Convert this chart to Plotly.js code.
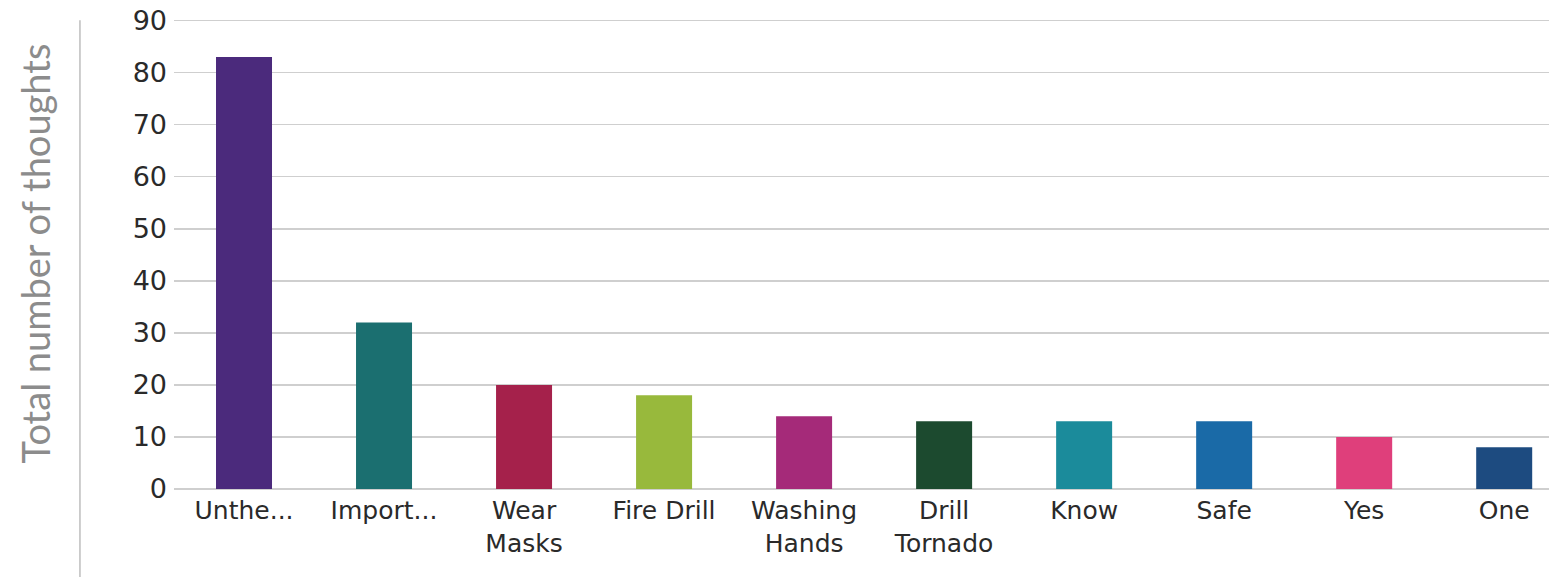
<!DOCTYPE html>
<html>
<head>
<meta charset="utf-8">
<script src="https://cdn.plot.ly/plotly-3.0.1.min.js"></script>
<style>html,body{margin:0;padding:0;background:#fff;}#chart{width:1549px;height:577px;}</style>
</head>
<body>
<div id="chart"></div>
<script>
const categories = ["Unthe...", "Import...", "Wear<br>Masks", "Fire Drill", "Washing<br>Hands", "Drill<br>Tornado", "Know", "Safe", "Yes", "One"];
const values = [83, 32, 20, 18, 14, 13, 13, 13, 10, 8];
const barColors = ["#4b2a7c", "#1b6f70", "#a5214b", "#98b93c", "#a52a79", "#1c4a2f", "#1b8b9b", "#1a6aa7", "#df3f7b", "#1d4b80"];
const yTickVals = [0, 10, 20, 30, 40, 50, 60, 70, 80, 90];

const trace = {
  type: "bar",
  x: categories,
  y: values,
  width: 0.4,
  marker: {color: barColors},
  hoverinfo: "x+y"
};

const layout = {
  width: 1549,
  height: 577,
  margin: {l: 174, r: 0, t: 18, b: 88},
  paper_bgcolor: "#ffffff",
  plot_bgcolor: "#ffffff",
  showlegend: false,
  font: {family: "DejaVu Sans, Liberation Sans, sans-serif", color: "#2a2a2a"},
  xaxis: {
    type: "category",
    range: [-0.5, 9.32],
    showgrid: false,
    zeroline: false,
    showline: false,
    ticks: "",
    ticklabelstandoff: 4,
    tickfont: {size: 25, color: "#2a2a2a"},
    fixedrange: true
  },
  yaxis: {
    range: [0, 90.5],
    tickvals: yTickVals,
    ticktext: yTickVals.map(String),
    showgrid: true,
    gridcolor: "#cfcfcf",
    gridwidth: 1.5,
    zeroline: true,
    zerolinecolor: "#cfcfcf",
    zerolinewidth: 1.5,
    showline: false,
    ticks: "",
    ticklen: 0,
    ticklabelstandoff: 6,
    tickfont: {size: 27, color: "#2a2a2a"},
    title: {text: "Total number of thoughts", font: {family: "Lato, Open Sans, sans-serif", size: 38, color: "#8c8c8c"}, standoff: 70},
    automargin: false,
    fixedrange: true
  },
  shapes: [{
    type: "line", xref: "paper", yref: "paper",
    x0: -0.0684, x1: -0.0684, y0: -0.2, y1: 0.995,
    line: {color: "#bdbdbd", width: 1.5}
  }]
};

Plotly.newPlot("chart", [trace], layout, {displayModeBar: false, staticPlot: true});
</script>
</body>
</html>
